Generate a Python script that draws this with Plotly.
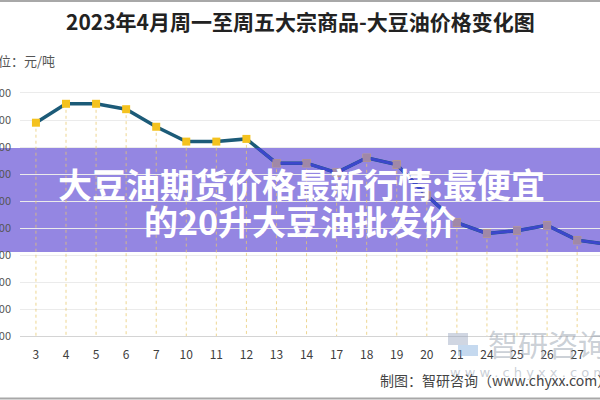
import plotly.graph_objects as go

# ---------------- data ----------------
DAYS = ["3", "4", "5", "6", "7", "10", "11", "12", "13", "14",
        "17", "18", "19", "20", "21", "24", "25", "26", "27", "28"]
PRICES = [8780, 8920, 8920, 8880, 8750, 8640, 8640, 8660, 8480, 8480,
          8410, 8520, 8470, 8240, 8040, 7960, 7980, 8020, 7910, 7880]
Y_TICKS = [7200, 7400, 7600, 7800, 8000, 8200, 8400, 8600, 8800, 9000]
TITLE = "2023年4月周一至周五大宗商品-大豆油价格变化图"
UNIT = "单位：元/吨"
SOURCE = "制图：智研咨询（www.chyxx.com）"
WATERMARK = "智研咨询"
WATERMARK_URL = "w w w . c h y x x . c o m"
BANNER_LINES = ["大豆油期货价格最新行情:最便宜", "的20升大豆油批发价"]

# ---------------- layout constants ----------------
W, H = 600, 400
ML, MR, MT, MB = 20, 0, 60, 64
PW, PH = W - ML - MR, H - MT - MB
Y_RANGE = [7200, 9244.4]
X_RANGE = [-0.53, 18.76]
FONT = "Noto Sans CJK SC"


def px_x(x):
    return (x - ML) / PW


def px_y(y):
    return (H - MB - y) / PH


BANNER_Y0, BANNER_Y1 = px_y(252), px_y(148)
span = Y_RANGE[1] - Y_RANGE[0]
Y2_RANGE = [Y_RANGE[0] + BANNER_Y0 * span, Y_RANGE[0] + BANNER_Y1 * span]

# drop lines from each point to the baseline
drop_x, drop_y = [], []
for d, p in zip(DAYS, PRICES):
    drop_x += [d, d, None]
    drop_y += [p, Y_TICKS[0], None]

fig = go.Figure()
fig.add_trace(go.Scatter(x=drop_x, y=drop_y, mode="lines",
                         line=dict(color="rgba(232,200,110,0.75)", width=1, dash="dot"),
                         hoverinfo="skip", showlegend=False))
fig.add_trace(go.Scatter(x=DAYS, y=PRICES, mode="lines+markers",
                         line=dict(color="#1c5b78", width=3.5),
                         marker=dict(symbol="square", size=8, color="#f4c21f"),
                         showlegend=False))
# same series as seen through the banner
fig.add_trace(go.Scatter(x=DAYS, y=PRICES, mode="lines+markers",
                         xaxis="x2", yaxis="y2",
                         line=dict(color="#3b47cc", width=3),
                         marker=dict(symbol="square", size=8, color="#a088a8"),
                         showlegend=False))

shapes = [
    dict(type="rect", xref="x2 domain", yref="y2 domain", layer="below",
         x0=-ML / PW - 0.01, x1=1.01, y0=0, y1=1,
         fillcolor="rgba(136,121,223,0.9)", line=dict(width=0)),
    dict(type="line", xref="paper", yref="paper", x0=px_x(0), x1=1,
         y0=px_y(1), y1=px_y(1), line=dict(color="#a8a8a8", width=2)),
    dict(type="line", xref="paper", yref="paper", x0=px_x(0), x1=1,
         y0=px_y(398.5), y1=px_y(398.5), line=dict(color="#a8a8a8", width=2)),
    dict(type="rect", xref="paper", yref="paper", x0=px_x(448), x1=px_x(468),
         y0=px_y(345), y1=px_y(333), fillcolor="rgba(150,165,190,0.45)", line=dict(width=0)),
    dict(type="rect", xref="paper", yref="paper", x0=px_x(458), x1=px_x(478),
         y0=px_y(356), y1=px_y(345), fillcolor="rgba(110,160,215,0.4)", line=dict(width=0)),
]

annotations = [
    dict(text="<b>" + TITLE + "</b>", xref="paper", yref="paper",
         x=px_x(300), y=px_y(21), xanchor="center", yanchor="middle",
         showarrow=False, font=dict(family=FONT, size=21, color="#222222")),
    dict(text=UNIT, xref="paper", yref="paper", x=px_x(57), y=px_y(60),
         xanchor="right", yanchor="middle", showarrow=False,
         font=dict(family=FONT, size=13, color="#555555")),
    dict(text=WATERMARK, xref="paper", yref="paper", x=px_x(486), y=px_y(343),
         xanchor="left", yanchor="middle", showarrow=False,
         font=dict(family=FONT, size=30, color="rgba(140,150,165,0.45)")),
    dict(text=WATERMARK_URL, xref="paper", yref="paper", x=px_x(448), y=px_y(372),
         xanchor="left", yanchor="middle", showarrow=False,
         font=dict(family="DejaVu Sans", size=13, color="rgba(150,160,175,0.5)")),
    dict(text=SOURCE, xref="paper", yref="paper", x=px_x(378), y=px_y(380),
         xanchor="left", yanchor="middle", showarrow=False,
         font=dict(family=FONT, size=14, color="#444444")),
    dict(text="<b>" + BANNER_LINES[0] + "</b>", xref="paper", yref="paper",
         x=px_x(301), y=px_y(183), xanchor="center", yanchor="middle",
         showarrow=False, font=dict(family=FONT, size=34, color="white")),
    dict(text="<b>" + BANNER_LINES[1] + "</b>", xref="paper", yref="paper",
         x=px_x(300), y=px_y(220), xanchor="center", yanchor="middle",
         showarrow=False, font=dict(family=FONT, size=34, color="white")),
]

fig.update_layout(
    width=W, height=H, autosize=False,
    margin=dict(l=ML, r=MR, t=MT, b=MB),
    paper_bgcolor="white", plot_bgcolor="rgba(0,0,0,0)",
    hovermode=False,
    xaxis=dict(type="category", range=X_RANGE, showgrid=False,
               showline=True, linecolor="#d4d4d4", linewidth=1, ticks="",
               tickfont=dict(family=FONT, size=12, color="#404040"),
               ticklabelstandoff=8, automargin=False, fixedrange=True),
    yaxis=dict(range=Y_RANGE, tickvals=Y_TICKS, showgrid=True,
               gridcolor="#ebebeb", gridwidth=1, zeroline=False, ticks="",
               tickfont=dict(family=FONT, size=11, color="#555555"),
               ticklabelstandoff=8, automargin=False, fixedrange=True),
    xaxis2=dict(type="category", range=X_RANGE, domain=[0, 1], anchor="y2",
                visible=False, fixedrange=True),
    yaxis2=dict(range=Y2_RANGE, domain=[BANNER_Y0, BANNER_Y1], anchor="x2",
                visible=False, fixedrange=True),
    shapes=shapes,
    annotations=annotations,
)

fig.write_html("out.html", config={"displayModeBar": False},
               post_script="document.body.style.margin='0';document.body.style.overflow='hidden';")
